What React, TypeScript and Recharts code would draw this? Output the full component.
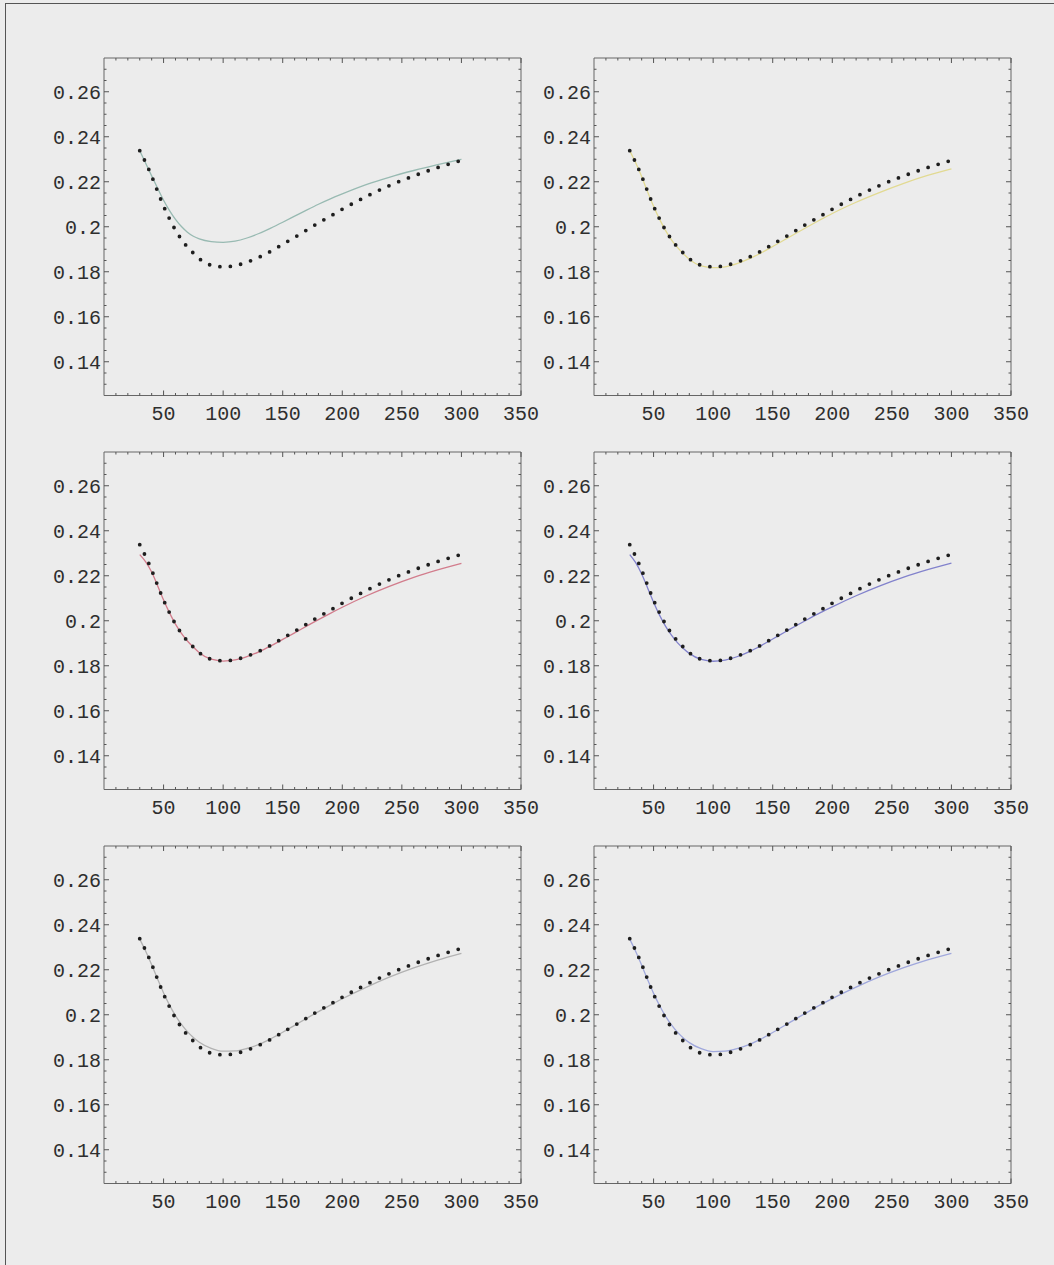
import React from 'react';
import { LineChart, Line, XAxis, YAxis } from 'recharts';

// ---- data ----
const X_GRID = [30, 35, 40, 45, 50, 55, 60, 65, 70, 75, 80, 90, 100, 110, 120, 130, 140, 150, 160, 170, 180, 190, 200, 220, 240, 260, 280, 300];

const Y_DOTTED = [0.2338, 0.2285, 0.2225, 0.2157, 0.2092, 0.2035, 0.1985, 0.1944, 0.1910, 0.1883, 0.1858, 0.1829, 0.1822, 0.1827, 0.1843, 0.1864, 0.1891, 0.1922, 0.1953, 0.1985, 0.2017, 0.2047, 0.2078, 0.2134, 0.2184, 0.2226, 0.2263, 0.2295];

const Y_SOLID_1 = [0.2338, 0.2282, 0.2226, 0.2171, 0.2118, 0.2072, 0.2033, 0.2001, 0.1976, 0.1958, 0.1946, 0.1934, 0.1931, 0.1936, 0.1950, 0.1970, 0.1994, 0.2020, 0.2047, 0.2074, 0.2100, 0.2124, 0.2146, 0.2187, 0.2221, 0.2250, 0.2276, 0.2300];
const Y_SOLID_2 = [0.2338, 0.2284, 0.2223, 0.2155, 0.2091, 0.2034, 0.1984, 0.1942, 0.1908, 0.1880, 0.1856, 0.1826, 0.1818, 0.1822, 0.1836, 0.1857, 0.1883, 0.1912, 0.1942, 0.1972, 0.2002, 0.2031, 0.2059, 0.2109, 0.2153, 0.2193, 0.2228, 0.2257];
const Y_SOLID_3 = [0.2294, 0.2262, 0.2217, 0.2156, 0.2092, 0.2035, 0.1985, 0.1944, 0.1910, 0.1883, 0.1858, 0.1829, 0.1821, 0.1826, 0.1841, 0.1862, 0.1888, 0.1917, 0.1946, 0.1976, 0.2005, 0.2033, 0.2060, 0.2110, 0.2154, 0.2193, 0.2226, 0.2255];
const Y_SOLID_4 = [0.2294, 0.2258, 0.2208, 0.2146, 0.2082, 0.2025, 0.1976, 0.1936, 0.1903, 0.1877, 0.1855, 0.1828, 0.1820, 0.1825, 0.1840, 0.1862, 0.1889, 0.1919, 0.1949, 0.1979, 0.2008, 0.2036, 0.2062, 0.2111, 0.2155, 0.2194, 0.2227, 0.2256];
const Y_SOLID_5 = [0.2336, 0.2282, 0.2222, 0.2158, 0.2097, 0.2043, 0.1996, 0.1957, 0.1925, 0.1899, 0.1878, 0.1851, 0.1838, 0.1839, 0.1850, 0.1868, 0.1893, 0.1922, 0.1953, 0.1984, 0.2014, 0.2043, 0.2071, 0.2122, 0.2168, 0.2208, 0.2243, 0.2273];
const Y_SOLID_6 = [0.2336, 0.2281, 0.2220, 0.2156, 0.2095, 0.2041, 0.1994, 0.1955, 0.1923, 0.1897, 0.1876, 0.1849, 0.1836, 0.1838, 0.1849, 0.1867, 0.1892, 0.1921, 0.1952, 0.1984, 0.2014, 0.2044, 0.2072, 0.2123, 0.2169, 0.2209, 0.2244, 0.2273];

const SOLID_COLORS = ['#98bab2', '#e2da92', '#d27c8c', '#8282cc', '#b2b2b2', '#a0a8dc'];

const X_MAJOR = [50, 100, 150, 200, 250, 300, 350];
const X_MAJOR_LABELS = ['50', '100', '150', '200', '250', '300', '350'];
const X_TICKS = [10, 20, 30, 40, 50, 60, 70, 80, 90, 100, 110, 120, 130, 140, 150, 160, 170, 180, 190, 200, 210, 220, 230, 240, 250, 260, 270, 280, 290, 300, 310, 320, 330, 340, 350];

const Y_MAJOR = [0.14, 0.16, 0.18, 0.2, 0.22, 0.24, 0.26];
const Y_MAJOR_LABELS = ['0.14', '0.16', '0.18', '0.2', '0.22', '0.24', '0.26'];
const Y_TICKS = [0.13, 0.135, 0.14, 0.145, 0.15, 0.155, 0.16, 0.165, 0.17, 0.175, 0.18, 0.185, 0.19, 0.195, 0.2, 0.205, 0.21, 0.215, 0.22, 0.225, 0.23, 0.235, 0.24, 0.245, 0.25, 0.255, 0.26, 0.265, 0.27];

const X_DOMAIN = [0, 350];
const Y_DOMAIN = [0.125, 0.275];

// ---- layout ----
const PLOT_W = 417;
const PLOT_H = 337.5;
const COL_X = [104, 593.5];
const ROW_Y = [58, 452, 846];
const Y_AXIS_W = 70;
const TOP_AXIS_H = 10;
const RIGHT_AXIS_W = 10;
const MARGIN_R = 24;
const BOTTOM_AXIS_H = 40;
const CHART_W = Y_AXIS_W + PLOT_W + RIGHT_AXIS_W + MARGIN_R;
const CHART_H = TOP_AXIS_H + PLOT_H + BOTTOM_AXIS_H;

const FONT = '"Liberation Mono", "Courier New", monospace';
const FRAME = '#666';
const TICKC = '#555';

function majorIndex(list: number[], v: number) {
  for (let i = 0; i < list.length; i++) if (Math.abs(list[i] - v) < 1e-6) return i;
  return -1;
}

const BottomTick = (props: any) => {
  const { x, y, payload } = props;
  const i = majorIndex(X_MAJOR, payload.value);
  const len = i >= 0 ? 5 : 2.5;
  return (
    <g>
      <line x1={x} y1={y} x2={x} y2={y - len} stroke={TICKC} strokeWidth={1} />
      {i >= 0 && (
        <text x={x} y={y + 24} textAnchor="middle" fontFamily={FONT} fontSize={20} fill="#2e2e2e">
          {X_MAJOR_LABELS[i]}
        </text>
      )}
    </g>
  );
};

const TopTick = (props: any) => {
  const { x, y, payload } = props;
  const i = majorIndex(X_MAJOR, payload.value);
  const len = i >= 0 ? 5 : 2.5;
  return <line x1={x} y1={y} x2={x} y2={y + len} stroke={TICKC} strokeWidth={1} />;
};

const LeftTick = (props: any) => {
  const { x, y, payload } = props;
  const i = majorIndex(Y_MAJOR, payload.value);
  const len = i >= 0 ? 5 : 2.5;
  return (
    <g>
      <line x1={x} y1={y} x2={x + len} y2={y} stroke={TICKC} strokeWidth={1} />
      {i >= 0 && (
        <text x={x - 3} y={y + 7} textAnchor="end" fontFamily={FONT} fontSize={20} fill="#2e2e2e">
          {Y_MAJOR_LABELS[i]}
        </text>
      )}
    </g>
  );
};

const RightTick = (props: any) => {
  const { x, y, payload } = props;
  const i = majorIndex(Y_MAJOR, payload.value);
  const len = i >= 0 ? 5 : 2.5;
  return <line x1={x} y1={y} x2={x - len} y2={y} stroke={TICKC} strokeWidth={1} />;
};

const zip = (xs: number[], ys: number[]) => xs.map((x, i) => ({ x, y: ys[i] }));

const DOTTED_DATA = zip(X_GRID, Y_DOTTED);
const SOLIDS = [Y_SOLID_1, Y_SOLID_2, Y_SOLID_3, Y_SOLID_4, Y_SOLID_5, Y_SOLID_6];

function Panel({ idx }: { idx: number }) {
  const col = idx % 2;
  const row = Math.floor(idx / 2);
  const left = COL_X[col] - Y_AXIS_W;
  const top = ROW_Y[row] - TOP_AXIS_H;
  const solidData = zip(X_GRID, SOLIDS[idx]);
  return (
    <div style={{ position: 'absolute', left, top, width: CHART_W, height: CHART_H }}>
      <LineChart width={CHART_W} height={CHART_H} margin={{ top: 0, right: MARGIN_R, bottom: 0, left: 0 }}>
        <XAxis
          xAxisId="b"
          dataKey="x"
          type="number"
          domain={X_DOMAIN}
          allowDataOverflow
          ticks={X_TICKS}
          interval={0}
          orientation="bottom"
          height={BOTTOM_AXIS_H}
          tickSize={0}
          tickMargin={0}
          tickLine={false}
          axisLine={{ stroke: FRAME, strokeWidth: 1 }}
          tick={<BottomTick />}
        />
        <XAxis
          xAxisId="t"
          dataKey="x"
          type="number"
          domain={X_DOMAIN}
          allowDataOverflow
          ticks={X_TICKS}
          interval={0}
          orientation="top"
          height={TOP_AXIS_H}
          tickSize={0}
          tickMargin={0}
          tickLine={false}
          axisLine={{ stroke: FRAME, strokeWidth: 1 }}
          tick={<TopTick />}
        />
        <YAxis
          yAxisId="l"
          type="number"
          domain={Y_DOMAIN}
          allowDataOverflow
          ticks={Y_TICKS}
          interval={0}
          orientation="left"
          width={Y_AXIS_W}
          tickSize={0}
          tickMargin={0}
          tickLine={false}
          axisLine={{ stroke: FRAME, strokeWidth: 1 }}
          tick={<LeftTick />}
        />
        <YAxis
          yAxisId="r"
          type="number"
          domain={Y_DOMAIN}
          allowDataOverflow
          ticks={Y_TICKS}
          interval={0}
          orientation="right"
          width={RIGHT_AXIS_W}
          tickSize={0}
          tickMargin={0}
          tickLine={false}
          axisLine={{ stroke: FRAME, strokeWidth: 1 }}
          tick={<RightTick />}
        />
        <Line
          xAxisId="b"
          yAxisId="l"
          data={solidData}
          dataKey="y"
          type="monotone"
          stroke={SOLID_COLORS[idx]}
          strokeWidth={1.3}
          dot={false}
          activeDot={false}
          isAnimationActive={false}
        />
        <Line
          xAxisId="b"
          yAxisId="l"
          data={DOTTED_DATA}
          dataKey="y"
          type="monotone"
          stroke="#1e1e1e"
          strokeWidth={3.8}
          strokeDasharray="0 10.5"
          strokeLinecap="round"
          dot={false}
          activeDot={false}
          isAnimationActive={false}
        />
      </LineChart>
    </div>
  );
}

export default function App() {
  return (
    <div style={{ position: 'absolute', left: 0, top: 0, width: 1054, height: 1265, background: '#ececec', overflow: 'hidden' }}>
      <div
        style={{
          position: 'absolute',
          left: 5,
          top: 3,
          width: 1060,
          height: 1280,
          borderLeft: '1.5px solid #555',
          borderTop: '1.5px solid #555',
        }}
      />
      {[0, 1, 2, 3, 4, 5].map((i) => (
        <Panel key={i} idx={i} />
      ))}
    </div>
  );
}
